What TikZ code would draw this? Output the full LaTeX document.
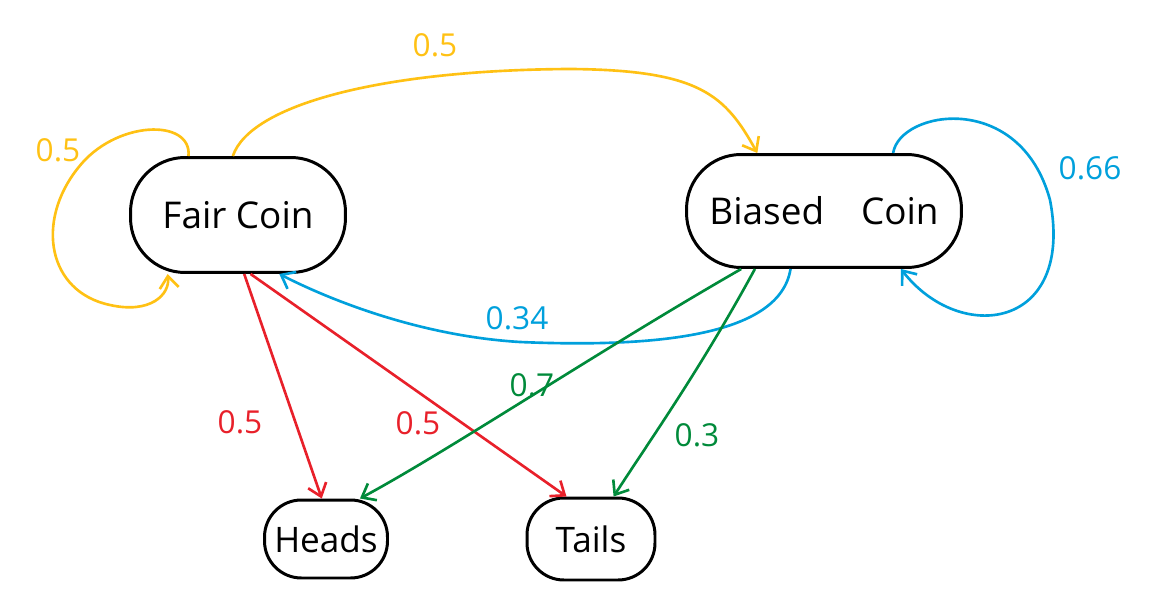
\documentclass[tikz,border=0pt]{standalone}
\usepackage{fontspec}
\setmainfont{Open Sans}
\usepackage{xcolor}
\usepackage{tikz}
\usetikzlibrary{positioning,arrows.meta,shapes.geometric}
\definecolor{penYellow}{HTML}{FFC114}
\definecolor{penBlue}{HTML}{00A0DC}
\definecolor{penRed}{HTML}{E8202A}
\definecolor{penGreen}{HTML}{008A3A}

\begin{document}
\begin{tikzpicture}[
  x=0.02cm, y=-0.02cm,
  coin/.style={rectangle, draw, line width=1.7pt, rounded corners=31pt, align=center, font=\fontsize{21}{25}\selectfont},
  outcome/.style={rectangle, draw, line width=1.7pt, rounded corners=21pt, inner sep=0pt, font=\fontsize{20}{24}\selectfont},
  prob/.style={font=\fontsize{18}{22}\selectfont},
  arr/.style={-{Straight Barb[length=2.4mm, width=3.8mm]}, line width=1.5pt},
]
\useasboundingbox (0,0) rectangle (1155,607);

\node[coin, minimum width=4.3cm, minimum height=2.3cm] (fair) at (238,215) {Fair Coin};
\node[coin, minimum width=5.5cm, minimum height=2.26cm] (biased) at (824,211) {Biased\quad Coin};
\node[outcome, minimum width=2.46cm, minimum height=1.56cm] (heads) at (326,539) {Heads};
\node[outcome, minimum width=2.56cm, minimum height=1.64cm] (tails) at (591,539) {Tails};

\draw[arr, penYellow] (fair.130) .. controls (192,118) and (115,120) .. (78,168)
  .. controls (35,222) and (48,292) .. (110,305)
  .. controls (150,314) and (170,295) .. (fair.220);
\draw[arr, penYellow] (fair.95) .. controls (250,105) and (380,70) .. (570,69)
  .. controls (700,70) and (725,95) .. (biased.139);
\draw[arr, penBlue] (biased.40) .. controls (900,110) and (1020,90) .. (1050,200)
  .. controls (1075,330) and (960,345) .. (biased.-37);
\draw[arr, penBlue] (biased.-120) .. controls (780,335) and (660,348) .. (520,342)
  .. controls (420,336) and (330,300) .. (fair.-55);
\draw[arr, penRed] (fair.-84) -- (heads.96);
\draw[arr, penRed] (fair.-78) -- (tails.120);
\draw[arr, penGreen] (biased.-145) .. controls (600,350) and (450,450) .. (heads.50);
\draw[arr, penGreen] (biased.-140) .. controls (700,370) and (650,440) .. (tails.62);

\node[prob, penYellow] (l1) at (58,150) {0.5};
\node[prob, penYellow] (l2) at (435,45) {0.5};
\node[prob, penBlue] (l3) at (1090,168) {0.66};
\node[prob, penBlue] (l4) at (517,318) {0.34};
\node[prob, penRed] (l5) at (240,422) {0.5};
\node[prob, penRed] (l6) at (418,423) {0.5};
\node[prob, penGreen] (l7) at (532,385) {0.7};
\node[prob, penGreen] (l8) at (697,435) {0.3};
\end{tikzpicture}
\end{document}
